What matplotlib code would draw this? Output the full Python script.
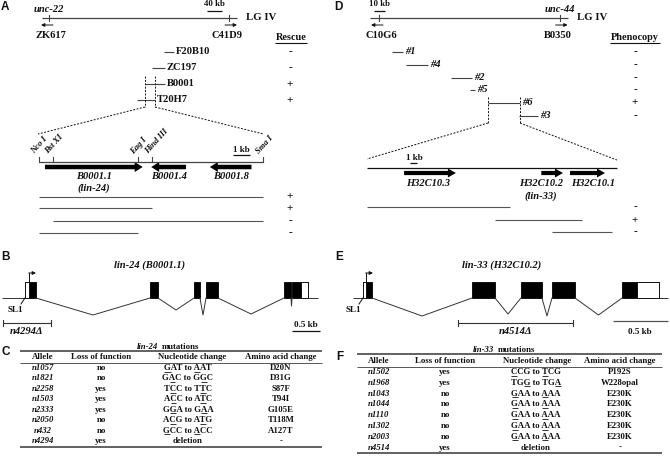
import matplotlib
matplotlib.use("Agg")
import matplotlib.pyplot as plt
from matplotlib.patches import FancyArrow, Rectangle
from matplotlib.font_manager import FontProperties

plt.rcParams["font.family"] = ["Liberation Serif", "DejaVu Serif"]
plt.rcParams["font.weight"] = "bold"

# ---------------- panel A: lin-24 mapping ----------------
a_loci = ["ZK617", "C41D9"]
a_loci_kb = [0, 480]
a_loci_dir = [-1, 1]
a_marker = "unc-22"
a_marker_kb = 0
a_map_kb = [-19, 501]
a_scale_kb = 40

a_clones = ["F20B10", "ZC197", "B0001", "T20H7"]
a_clone_start = [307, 275, 256, 235]
a_clone_end = [333, 309, 309, 283]
a_rescue = ["-", "-", "+", "+"]

a_sites = ["Nco I", "Bst XI", "Eag I", "Hind III", "Sma I"]
a_sites_kb = [0, 0.82, 5.82, 6.65, 13.2]
a_genes = ["B0001.1", "B0001.4", "B0001.8"]
a_gene_start = [0.35, 8.65, 12.5]
a_gene_end = [6.1, 6.6, 10.05]
a_frag_start = [0, 0, 0.82, 0]
a_frag_end = [13.2, 6.65, 13.2, 5.82]
a_frag_rescue = ["+", "+", "-", "-"]

# ---------------- panel D: lin-33 mapping ----------------
d_loci = ["C10G6", "B0350"]
d_loci_kb = [0, 172]
d_loci_dir = [-1, 1]
d_marker = "unc-44"
d_marker_kb = 172
d_map_kb = [-8.6, 180]
d_scale_kb = 10

d_clones = ["#1", "#4", "#2", "#5", "#6", "#3"]
d_clone_start = [12.4, 25.7, 68.6, 86.7, 103.8, 133.3]
d_clone_end = [22.9, 46.7, 88.6, 91.4, 134.3, 151.4]
d_pheno = ["-", "-", "-", "-", "+", "-"]

d_genes = ["H32C10.3", "H32C10.2", "H32C10.1"]
d_gene_start = [5.3, 24.9, 29.0]
d_gene_end = [12.7, 28.0, 34.0]
d_region_kb = [0, 35.7]
d_frag_start = [0, 18.3, 26.4]
d_frag_end = [20.4, 30.7, 35.0]
d_frag_pheno = ["-", "+", "-"]

# ---------------- panels B / E: gene structures (bp) ----------------
b_exon_start = [0, 2232, 3018, 3232, 4625, 4768]
b_exon_end = [196, 2375, 3125, 3446, 4750, 5054]
b_utr = [(0, 71), (4929, 5054)]
b_flank = [-411, 5232]
b_deletion = [-393, 464]

e_exon_start = [0, 991, 1436, 1718, 2355]
e_exon_end = [82, 1200, 1627, 1927, 2691]
e_utr = [(0, 27), (2491, 2691)]
e_flank = [-91, 2773]
e_deletion = [864, 1909]

# ---------------- panels C / F: mutation tables ----------------
tab_header = ["Allele", "Loss of function", "Nucleotide change", "Amino acid change"]

c_alleles = ["n1057", "n1821", "n2258", "n1503", "n2333", "n2050", "n432", "n4294"]
c_lof = ["no", "no", "yes", "yes", "yes", "no", "no", "yes"]
c_nuc = ["_GAT to _AAT", "G_AC to G_GC", "T_CC to T_TC", "A_CC to A_TC",
         "G_GA to G_AA", "A_CG to A_TG", "_GCC to _ACC", "deletion"]
c_aa = ["D20N", "D31G", "S87F", "T94I", "G105E", "T118M", "A127T", "-"]

f_alleles = ["n1502", "n1968", "n1043", "n1044", "n1110", "n1302", "n2003", "n4514"]
f_lof = ["yes", "yes", "no", "no", "no", "no", "no", "yes"]
f_nuc = ["_CCG to _TCG", "TG_G to TG_A", "_GAA to _AAA", "_GAA to _AAA",
         "_GAA to _AAA", "_GAA to _AAA", "_GAA to _AAA", "deletion"]
f_aa = ["P192S", "W228opal", "E230K", "E230K", "E230K", "E230K", "E230K", "-"]

# ---------------- figure (axes in pixel units) ----------------
fig = plt.figure(figsize=(6.7, 4.67), dpi=100)
ax = fig.add_axes([0, 0, 1, 1])
ax.set_xlim(0, 670)
ax.set_ylim(467, 0)
ax.axis("off")
renderer = fig.canvas.get_renderer()

INK = "#111111"
LINE = "#444444"
FS = 7.6


def txt(x, y, s, size=FS, italic=False, **kw):
    kw.setdefault("ha", "center")
    kw.setdefault("va", "center")
    return ax.text(x, y, s, fontsize=size, color=INK, fontweight="bold",
                   fontstyle="italic" if italic else "normal", **kw)


def letter(x, y, s):
    ax.text(x, y, s, fontsize=8.5, fontweight="bold", family="Liberation Sans",
            ha="center", va="center", color=INK)


def hline(x0, x1, y, lw=0.8, color=LINE, **kw):
    ax.plot([x0, x1], [y, y], color=color, lw=lw, solid_capstyle="butt", **kw)


def small_arrow(x0, x1, y):
    ax.annotate("", xy=(x1, y), xytext=(x0, y),
                arrowprops=dict(arrowstyle="-|>", lw=0.7, color=INK,
                                mutation_scale=5, shrinkA=0, shrinkB=0))


def big_arrow(x0, x1, y, width=4.5, head_w=10, head_l=8):
    ax.add_patch(FancyArrow(x0, y, x1 - x0, 0, width=width, head_width=head_w,
                            head_length=head_l, length_includes_head=True,
                            color="black", lw=0))


def chrom_map(px0, ppk, map_kb, loci, loci_kb, loci_dir, marker, marker_kb,
              scale_kb, scale_x, y=18):
    X = lambda kb: px0 + kb * ppk
    hline(X(map_kb[0]), X(map_kb[1]), y, lw=0.9)
    for name, kb, d in zip(loci, loci_kb, loci_dir):
        ax.plot([X(kb), X(kb)], [y - 3, y + 3], color=LINE, lw=0.8)
        small_arrow(X(kb) - 4 * d, X(kb) + 8 * d, y + 7)
        txt(X(kb) - 2 * d, y + 17, name)
    txt(X(marker_kb), y - 8, marker, italic=True)
    txt(X(map_kb[1]) + 24, y, "LG IV", size=7.8)
    hline(scale_x, scale_x + scale_kb * ppk, 11, lw=0.9, color=INK)
    txt(scale_x + scale_kb * ppk / 2, 4.5, f"{scale_kb} kb", size=6.3)
    return X


def clone_rows(X, names, starts, ends, signs, rows_y, sign_x):
    for n, s, e, sg, yy in zip(names, starts, ends, signs, rows_y):
        hline(X(s), X(e), yy, lw=0.8)
        txt(X(e) + 2, yy, n, ha="left", italic=n.startswith("#"))
        txt(sign_x, yy, sg, size=8)


def gene_model(px0, ppb, ex_s, ex_e, utr, flank, dips, y_top, y_bot):
    X = lambda bp: px0 + bp * ppb
    hline(X(flank[0]), X(ex_s[0]), y_bot, lw=0.7, color="#333333")
    hline(X(ex_e[-1]), X(flank[1]), y_bot, lw=0.7, color="#333333")
    for i in range(len(ex_s) - 1):
        xa, xb = X(ex_e[i]), X(ex_s[i + 1])
        ax.plot([xa, (xa + xb) / 2, xb], [y_bot, y_bot + dips[i], y_bot],
                color="#333333", lw=0.7)
    for s, e in zip(ex_s, ex_e):
        ax.add_patch(Rectangle((X(s), y_top), X(e) - X(s), y_bot - y_top,
                               facecolor="black", edgecolor="black", lw=0.6))
    for s, e in utr:
        ax.add_patch(Rectangle((X(s), y_top), X(e) - X(s), y_bot - y_top,
                               facecolor="white", edgecolor="black", lw=0.6))
    # transcription start and SL1
    xs = X(utr[0][1])
    ax.plot([xs, xs], [y_top, y_top - 9], color=INK, lw=0.7)
    ax.annotate("", xy=(xs + 7, y_top - 9), xytext=(xs - 0.3, y_top - 9),
                arrowprops=dict(arrowstyle="-|>", lw=0.7, color=INK,
                                mutation_scale=5, shrinkA=0, shrinkB=0))
    x0 = X(ex_s[0])
    ax.plot([x0, x0 - 4], [y_bot, y_bot + 6], color=INK, lw=0.7)
    txt(x0 - 10, y_bot + 12, "SL1", size=6.6)
    return X


def deletion_bar(x0, x1, y):
    hline(x0, x1, y, lw=0.8, color="#333333")
    for xx in (x0, x1):
        ax.plot([xx, xx], [y - 3, y + 3], color="#333333", lw=0.8)


def nuc_text(x, y, marked, size):
    s = marked.replace("_", "")
    txt(x, y, s, size=size)
    if "_" not in marked:
        return
    fp = FontProperties(family=["Liberation Serif", "DejaVu Serif"],
                        weight="bold", size=size)
    W = renderer.get_text_width_height_descent(s, fp, ismath=False)[0]
    idx, k = [], 0
    for ch in marked:
        if ch == "_":
            idx.append(k)
        else:
            k += 1
    for i in idx:
        w_to = renderer.get_text_width_height_descent(s[:i + 1], fp, ismath=False)[0]
        w_ch = renderer.get_text_width_height_descent(s[i], fp, ismath=False)[0]
        left = x - W / 2 + w_to - w_ch
        hline(left + 0.3, left + w_ch - 0.3, y + 3.6, lw=0.6, color=INK)


def mut_table(x0, x1, title, title_x, y_title, y_top, y_head, y_hl, rows_y, y_bot,
              col_x, nuc_x, alleles, lof, nuc, aa):
    fs = 6.3
    gene, rest = title.split(" ", 1)
    txt(title_x, y_title, gene, size=fs, italic=True, ha="right")
    txt(title_x + 3.5, y_title, rest, size=fs, ha="left")
    hline(x0, x1, y_top, lw=1.3, color="#555555")
    for cx, h in zip(col_x, tab_header):
        txt(cx, y_head, h, size=fs)
    hline(x0, x1, y_hl, lw=0.7, color="#555555")
    for yy, a, l, n, m in zip(rows_y, alleles, lof, nuc, aa):
        txt(col_x[0], yy, a, size=fs, italic=True)
        txt(col_x[1], yy, l, size=fs)
        nuc_text(nuc_x, yy, n, fs)
        txt(col_x[3], yy, m, size=fs)
    hline(x0, x1, y_bot, lw=1.3, color="#555555")


# ===== A =====
letter(5, 7, "A")
XA = chrom_map(49, 15 / 40, a_map_kb, a_loci, a_loci_kb, a_loci_dir,
               a_marker, a_marker_kb, a_scale_kb, 207)
txt(291, 37.5, "Rescue", size=7.4)
hline(275, 307, 43, lw=0.8, color=INK)
a_rows_y = [52, 68, 84, 100]
clone_rows(XA, a_clones, a_clone_start, a_clone_end, a_rescue, a_rows_y, 290)
# expanded region
xl, xr = XA(a_clone_start[2]), XA(a_clone_end[3])
XS = lambda kb: 39 + kb * 17
for xx in (xl, xr):
    ax.plot([xx, xx], [76, 107], color=INK, lw=0.7, ls=(0, (2, 1.5)))
ax.plot([xl, XS(a_sites_kb[0]) - 1], [107, 134], color=INK, lw=0.7, ls=(0, (2, 1.5)))
ax.plot([xr, XS(a_sites_kb[-1])], [107, 134], color=INK, lw=0.7, ls=(0, (2, 1.5)))
hline(XS(a_sites_kb[0]), XS(a_sites_kb[-1]), 162, lw=0.9)
for name, kb in zip(a_sites, a_sites_kb):
    ax.plot([XS(kb), XS(kb)], [157, 162], color=LINE, lw=0.8)
    ax.text(XS(kb) - 3, 155.5, name, fontsize=6.2, fontweight="bold", fontstyle="italic",
            rotation=48, rotation_mode="anchor", ha="left", va="bottom", color=INK)
hline(233, 233 + 17, 155, lw=0.9, color=INK)
txt(241.5, 150, "1 kb", size=6.5)
for s, e in zip(a_gene_start, a_gene_end):
    big_arrow(XS(s), XS(e), 167)
a_label_dx = [0, 0, 0]
for g, s, e, dx in zip(a_genes, a_gene_start, a_gene_end, a_label_dx):
    txt((XS(s) + XS(e)) / 2 + dx, 176.5, g, italic=True)
txt((XS(a_gene_start[0]) + XS(a_gene_end[0])) / 2, 188, "(lin-24)", italic=True)
a_frag_y = [197, 208, 221, 233]
for s, e, sg, yy in zip(a_frag_start, a_frag_end, a_frag_rescue, a_frag_y):
    hline(XS(s), XS(e), yy, lw=0.8, color="#555555")
    txt(290, yy, sg, size=8)

# ===== D =====
letter(338, 7, "D")
XD = chrom_map(379, 1.05, d_map_kb, d_loci, d_loci_kb, d_loci_dir,
               d_marker, d_marker_kb, d_scale_kb, 374)
txt(635, 37.5, "Phenocopy", size=7.4)
hline(610, 660, 43, lw=0.8, color=INK)
d_rows_y = [52, 64.5, 78, 90, 102.5, 116]
clone_rows(XD, d_clones, d_clone_start, d_clone_end, d_pheno, d_rows_y, 635)
xl, xr = XD(d_clone_start[4]), XD(d_clone_end[4])
XT = lambda kb: 367 + kb * 7
for xx in (xl, xr):
    ax.plot([xx, xx], [97, 123], color=INK, lw=0.7, ls=(0, (2, 1.5)))
ax.plot([xl, XT(d_region_kb[0])], [123, 159], color=INK, lw=0.7, ls=(0, (2, 1.5)))
ax.plot([xr, XT(d_region_kb[1])], [123, 160], color=INK, lw=0.7, ls=(0, (2, 1.5)))
hline(XT(d_region_kb[0]), XT(d_region_kb[1]), 168, lw=0.9, color=INK)
hline(410, 417, 162.5, lw=0.9, color=INK)
txt(414, 157.5, "1 kb", size=6.5)
for s, e in zip(d_gene_start, d_gene_end):
    big_arrow(XT(s), XT(e), 173, width=4.2, head_w=9, head_l=8)
d_label_dx = [-2, -11, 6]
for g, s, e, dx in zip(d_genes, d_gene_start, d_gene_end, d_label_dx):
    txt((XT(s) + XT(e)) / 2 + dx, 184, g, italic=True)
txt((XT(d_gene_start[1]) + XT(d_gene_end[1])) / 2 - 11, 196.5, "(lin-33)", italic=True)
d_frag_y = [207, 220, 232]
for s, e, sg, yy in zip(d_frag_start, d_frag_end, d_frag_pheno, d_frag_y):
    hline(XT(s), XT(e), yy, lw=0.8, color="#555555")
    txt(635, yy, sg, size=8)

# ===== B =====
letter(5, 257, "B")
txt(150, 265, "lin-24 (B0001.1)", italic=True)
XB = gene_model(25, 0.056, b_exon_start, b_exon_end, b_utr, b_flank,
                [17, 12, 17, 16, 8], 282, 298)
deletion_bar(XB(b_deletion[0]), XB(b_deletion[1]), 322.5)
txt((XB(b_deletion[0]) + XB(b_deletion[1])) / 2, 331.5, "n4294\u0394", italic=True)
hline(292, 292 + 0.5 * 56, 331, lw=0.9, color=INK)
txt(306, 325, "0.5 kb", size=6.6)

# ===== E =====
letter(339, 257, "E")
txt(502, 265, "lin-33 (H32C10.2)", italic=True)
XE = gene_model(363, 0.110, e_exon_start, e_exon_end, e_utr, e_flank,
                [18, 16, 18, 17], 282, 298)
deletion_bar(XE(e_deletion[0]), XE(e_deletion[1]), 323)
txt((XE(e_deletion[0]) + XE(e_deletion[1])) / 2, 332, "n4514\u0394", italic=True)
hline(613, 613 + 0.5 * 110, 321, lw=0.9, color="#555555")
txt(640, 332, "0.5 kb", size=6.6)

# ===== C =====
letter(6, 352, "C")
c_rows_y = [368 + 10.45 * i for i in range(len(c_alleles))]
mut_table(20, 322, "lin-24 mutations", 158, 347, 351, 357, 362.5, c_rows_y, 447,
          [43, 101, 192, 281], 188, c_alleles, c_lof, c_nuc, c_aa)

# ===== F =====
letter(340, 357, "F")
f_rows_y = [372 + 10.8 * i for i in range(len(f_alleles))]
mut_table(357, 662, "lin-33 mutations", 494, 350, 354, 361, 367, f_rows_y, 453,
          [379, 445, 537, 620], 536, f_alleles, f_lof, f_nuc, f_aa)

fig.savefig("out.png", dpi=100)
